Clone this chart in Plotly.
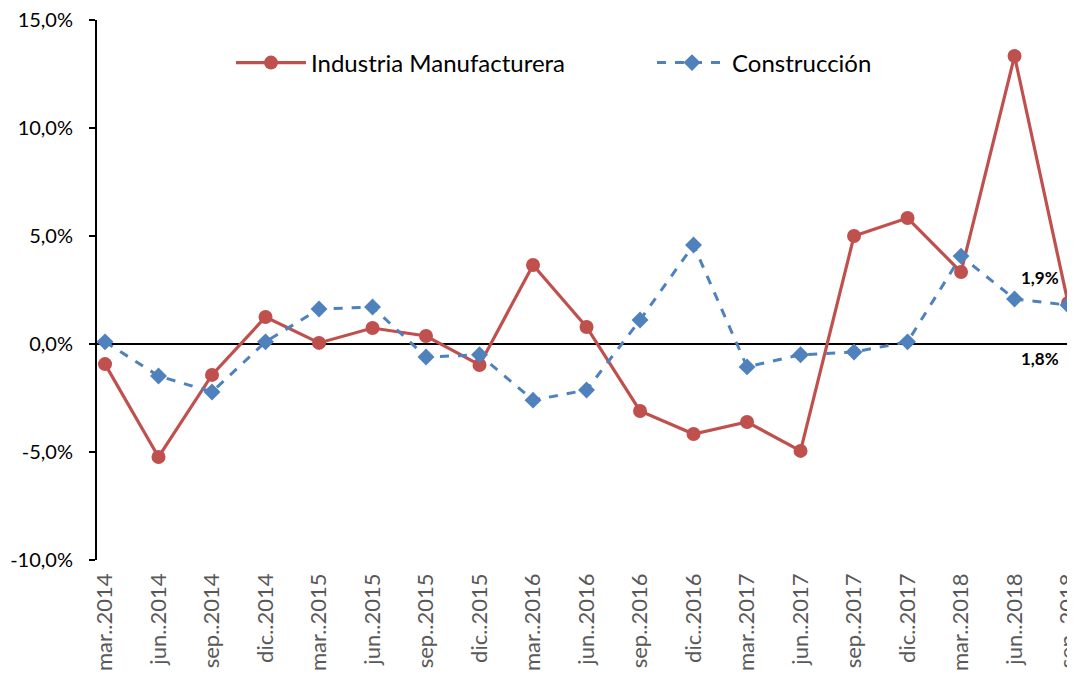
import plotly.graph_objects as go

periodos = ["mar..2014", "jun..2014", "sep..2014", "dic..2014",
            "mar..2015", "jun..2015", "sep..2015", "dic..2015",
            "mar..2016", "jun..2016", "sep..2016", "dic..2016",
            "mar..2017", "jun..2017", "sep..2017", "dic..2017",
            "mar..2018", "jun..2018", "sep..2018"]

industria = [-0.93, -5.23, -1.43, 1.25, 0.05, 0.74, 0.37, -0.97, 3.66, 0.79,
             -3.10, -4.17, -3.61, -4.95, 5.00, 5.83, 3.33, 13.33, 1.9]

construccion = [0.10, -1.48, -2.22, 0.10, 1.62, 1.71, -0.60, -0.50, -2.60, -2.13,
                1.11, 4.58, -1.06, -0.50, -0.37, 0.10, 4.07, 2.08, 1.8]

ytick_vals = [-10, -5, 0, 5, 10, 15]
ytick_text = ["-10,0%", "-5,0%", "0,0%", "5,0%", "10,0%", "15,0%"]

label_ind = "1,9%"
label_con = "1,8%"

FONT = "Lato"

x_idx = list(range(len(periodos)))

fig = go.Figure()
fig.add_trace(go.Scatter(
    x=x_idx, y=industria, name="Industria Manufacturera",
    mode="lines+markers",
    line=dict(color="#C0504D", width=3.2),
    marker=dict(symbol="circle", size=14, color="#C0504D"),
    cliponaxis=False,
))
fig.add_trace(go.Scatter(
    x=x_idx, y=construccion, name="Construcción",
    mode="lines+markers",
    line=dict(color="#4F81BD", width=3, dash="dash"),
    marker=dict(symbol="diamond", size=13, color="#4F81BD"),
    cliponaxis=False,
))

fig.add_annotation(x=x_idx[-1], y=industria[-1], text=label_ind, showarrow=False,
                   xanchor="right", yanchor="middle", xshift=-7, yshift=25,
                   font=dict(family=FONT, size=17, color="black", weight="bold"))
fig.add_annotation(x=x_idx[-1], y=construccion[-1], text=label_con, showarrow=False,
                   xanchor="right", yanchor="middle", xshift=-7, yshift=-53,
                   font=dict(family=FONT, size=17, color="black", weight="bold"))

fig.update_layout(
    width=1067, height=669,
    margin=dict(l=89, r=0, t=12, b=117, autoexpand=False),
    paper_bgcolor="white", plot_bgcolor="white",
    font=dict(family=FONT, color="black"),
    showlegend=True,
    legend=dict(orientation="h", x=0.137, y=0.962, xanchor="left", yanchor="top",
                font=dict(family=FONT, size=24, color="black"),
                bgcolor="rgba(0,0,0,0)", itemwidth=70,
                entrywidth=336, entrywidthmode="pixels"),
    xaxis=dict(
        range=[-0.15, 18.13],
        tickmode="array", tickvals=x_idx, ticktext=periodos,
        tickangle=-90, showgrid=False, zeroline=False, showline=False,
        ticks="", tickfont=dict(family=FONT, size=22, color="#595959"),
        ticklabelstandoff=8, ticklabeloverflow="allow",
        automargin=False,
    ),
    yaxis=dict(
        range=[-10, 15], tickmode="array", tickvals=ytick_vals, ticktext=ytick_text,
        showgrid=False, zeroline=True, zerolinecolor="black", zerolinewidth=1.5,
        showline=True, linecolor="black", linewidth=2,
        ticks="outside", ticklen=6, tickwidth=2, tickcolor="black",
        tickfont=dict(family=FONT, size=20, color="black"),
        ticklabelstandoff=12, ticklabeloverflow="allow",
        automargin=False,
    ),
)

fig.write_html("out.html")
